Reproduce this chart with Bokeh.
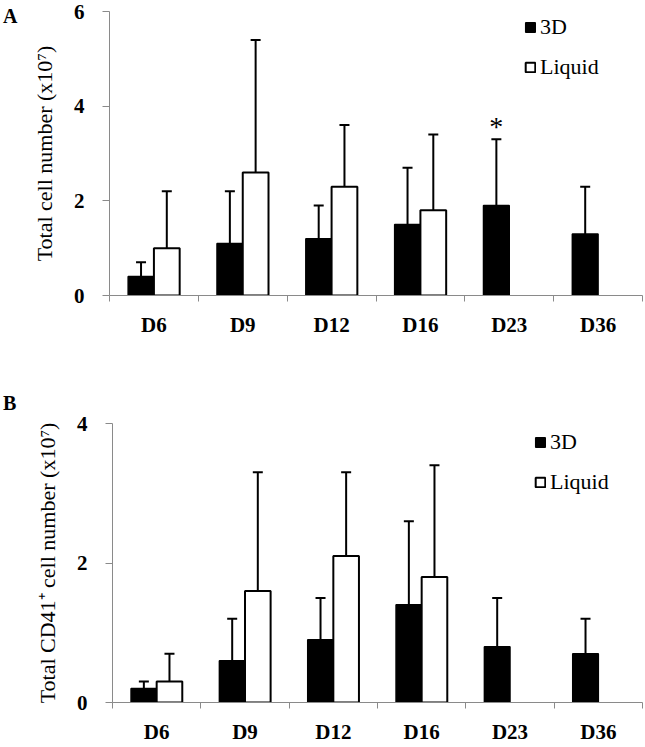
from bokeh.plotting import figure
from bokeh.models import (ColumnDataSource, Whisker, TeeHead, FixedTicker, Legend,
                          LegendItem, Range1d, Div)
from bokeh.layouts import column, row
from bokeh.embed import file_html
from bokeh.resources import INLINE
from bokeh.core.properties import value

days = ["D6", "D9", "D12", "D16", "D23", "D36"]

# Panel A: total cell number (x10^7)
a_3d = [0.4, 1.1, 1.2, 1.5, 1.9, 1.3]
a_3d_err = [0.3, 1.1, 0.7, 1.2, 1.4, 1.0]
a_liq = [1.0, 2.6, 2.3, 1.8, None, None]
a_liq_err = [1.2, 2.8, 1.3, 1.6, None, None]
a_sig = ["", "", "", "", "*", ""]
a_yticks = [0, 2, 4, 6]

# Panel B: total CD41+ cell number (x10^7)
b_3d = [0.2, 0.6, 0.9, 1.4, 0.8, 0.7]
b_3d_err = [0.1, 0.6, 0.6, 1.2, 0.7, 0.5]
b_liq = [0.3, 1.6, 2.1, 1.8, None, None]
b_liq_err = [0.4, 1.7, 1.2, 1.6, None, None]
b_sig = ["", "", "", "", "", ""]
b_yticks = [0, 2, 4]

SERIF = "Liberation Serif"
AXIS_GRAY = "#8a8a8a"
BAR_W = 0.29
DIV_W = 20
WIDTH = 645 - DIV_W


def panel(ylabel, v3d, e3d, vliq, eliq, sig, yticks, height,
          b_left, b_top, b_bottom, legend_loc):
    n = len(days)
    p = figure(width=WIDTH, height=height, output_backend="svg",
               toolbar_location=None, x_range=Range1d(0, n),
               y_range=Range1d(0, yticks[-1]),
               min_border_left=b_left, min_border_right=3,
               min_border_top=b_top, min_border_bottom=b_bottom)
    p.outline_line_color = None
    p.grid.visible = False

    xs3 = [i + 0.5 - BAR_W / 2 for i in range(n)]
    src3 = ColumnDataSource(dict(x=xs3, top=v3d,
                                 upper=[v + e for v, e in zip(v3d, e3d)],
                                 lower=v3d))
    idx = [i for i in range(n) if vliq[i] is not None]
    srcl = ColumnDataSource(dict(x=[i + 0.5 + BAR_W / 2 for i in idx],
                                 top=[vliq[i] for i in idx],
                                 upper=[vliq[i] + eliq[i] for i in idx],
                                 lower=[vliq[i] for i in idx]))

    r3 = p.vbar(x="x", top="top", width=BAR_W, source=src3,
                fill_color="black", line_color="black", line_width=1.5)
    rl = p.vbar(x="x", top="top", width=BAR_W, source=srcl,
                fill_color="white", line_color="black", line_width=2)

    for s in (src3, srcl):
        w = Whisker(source=s, base="x", upper="upper", lower="lower",
                    dimension="height", line_width=2, line_color="black",
                    upper_head=TeeHead(size=10, line_width=2, line_color="black"),
                    lower_head=None)
        p.add_layout(w)

    sig_idx = [i for i in range(n) if sig[i]]
    if sig_idx:
        ssrc = ColumnDataSource(dict(x=[xs3[i] for i in sig_idx],
                                     y=[v3d[i] + e3d[i] for i in sig_idx],
                                     t=[sig[i] for i in sig_idx]))
        p.text(x="x", y="y", text="t", source=ssrc, text_align="center",
               text_baseline="alphabetic", y_offset=-13,
               text_font=value(SERIF), text_font_size="28px", text_color="black")

    # x axis
    p.xaxis.ticker = FixedTicker(ticks=[i + 0.5 for i in range(n)],
                                 minor_ticks=list(range(n + 1)))
    p.xaxis.major_label_overrides = {i + 0.5: d for i, d in enumerate(days)}
    p.xaxis.major_tick_line_color = None
    p.xaxis.major_tick_out = 0
    p.xaxis.major_tick_in = 0
    p.xaxis.minor_tick_line_color = AXIS_GRAY
    p.xaxis.minor_tick_out = 6
    p.xaxis.minor_tick_in = 0
    p.xaxis.axis_line_color = AXIS_GRAY
    p.xaxis.major_label_text_font = SERIF
    p.xaxis.major_label_text_font_style = "bold"
    p.xaxis.major_label_text_font_size = "21px"
    p.xaxis.major_label_text_color = "black"
    p.xaxis.major_label_standoff = 11

    # y axis
    p.yaxis.ticker = FixedTicker(ticks=yticks, minor_ticks=[])
    p.yaxis.axis_line_color = AXIS_GRAY
    p.yaxis.major_tick_line_color = AXIS_GRAY
    p.yaxis.major_tick_out = 7
    p.yaxis.major_tick_in = 0
    p.yaxis.minor_tick_line_color = None
    p.yaxis.major_label_text_font = SERIF
    p.yaxis.major_label_text_font_style = "bold"
    p.yaxis.major_label_text_font_size = "21px"
    p.yaxis.major_label_text_color = "black"
    p.yaxis.major_label_standoff = 18
    p.yaxis.axis_label = ylabel
    p.yaxis.axis_label_text_font = SERIF
    p.yaxis.axis_label_text_font_style = "normal"
    p.yaxis.axis_label_text_font_size = "22px"
    p.yaxis.axis_label_text_color = "black"
    p.yaxis.axis_label_standoff = 14

    legend = Legend(items=[LegendItem(label="3D", renderers=[r3]),
                           LegendItem(label="Liquid", renderers=[rl])],
                    location=legend_loc, orientation="vertical",
                    border_line_color=None, background_fill_alpha=0,
                    padding=0, margin=0, spacing=14,
                    glyph_width=12, glyph_height=12, label_standoff=4,
                    label_text_font=SERIF, label_text_font_size="22px",
                    label_text_color="black")
    p.add_layout(legend)
    return p


def letter_div(letter, height, top):
    return Div(text=letter, width=DIV_W, height=height, margin=0,
               styles={"font-family": SERIF, "font-weight": "bold",
                       "font-size": "20px", "color": "black",
                       "padding-left": "3px", "padding-top": f"{top}px",
                       "line-height": "1", "box-sizing": "border-box"})


# Panel A canvas: 0..386, frame 11..295, left 109
pa = panel("Total cell number (x10\u2077)", a_3d, a_3d_err, a_liq, a_liq_err,
           a_sig, a_yticks, 386, 109 - DIV_W, 11, 91, (415, 215))
# Panel B canvas: 386..746, frame 423..706, left 112
pb = panel("Total CD41\u207a cell number (x10\u2077)", b_3d, b_3d_err, b_liq,
           b_liq_err, b_sig, b_yticks, 360, 112 - DIV_W, 37, 40, (422, 207))

layout = column(row(letter_div("A", 386, 6), pa, spacing=0),
                row(letter_div("B", 360, 7), pb, spacing=0), spacing=0)
open("out.html", "w").write(file_html(layout, INLINE))
